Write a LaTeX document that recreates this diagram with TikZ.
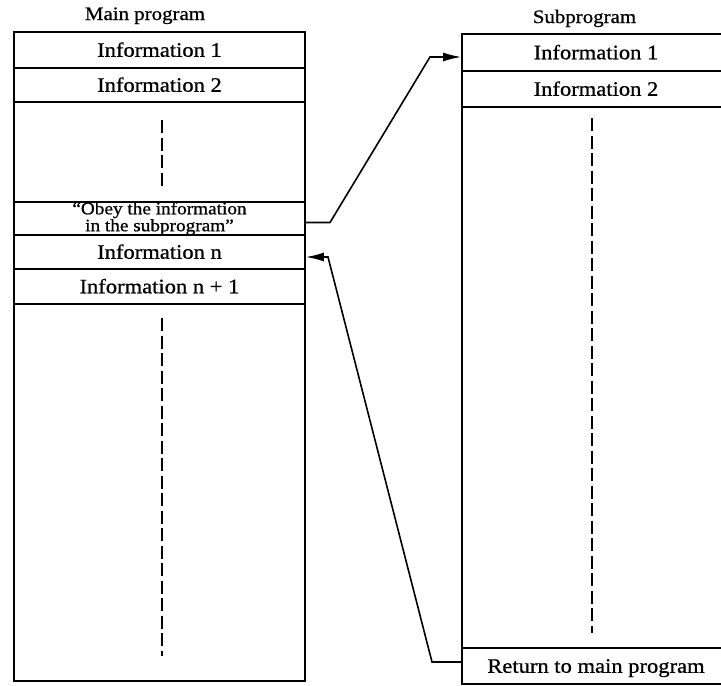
\documentclass[tikz,border=0pt]{standalone}
\usepackage{fontspec}
\setmainfont[FakeStretch=1.1,FakeBold=0.8]{Liberation Serif}
\usetikzlibrary{arrows.meta}
\begin{document}
\begin{tikzpicture}[x=1pt,y=-1pt,
  frame/.style={draw,line width=1.8pt,inner sep=0pt},
  row/.style={frame,text height=13.5pt,text depth=0pt,
    font=\fontsize{20.5}{23}\selectfont},
  mainrow/.style={row,minimum width=291pt,minimum height=#1},
  subrow/.style={row,minimum width=268pt,minimum height=#1},
  title/.style={anchor=base,font=\fontsize{19}{22}\selectfont},
  gapline/.style={line width=1.6pt,dash pattern=on 13pt off 4.5pt},
  link/.style={line width=1.6pt,-{Latex[length=18pt,width=9pt]}}
]
\fill[white] (0,0) rectangle (721,686);
\clip (0,0) rectangle (721,686);

% main program column
\node[frame,minimum width=291pt,minimum height=649pt] (mainbox) at (159.5,356.5) {};
\node[mainrow=36pt] (m1) at (159.5,50) {Information 1};
\node[mainrow=34pt] (m2) at (159.5,85) {Information 2};
\node[frame,minimum width=291pt,minimum height=33pt,align=center,
  font=\fontsize{17.5}{13}\selectfont] (mobey) at (159.5,218.5)
  {``Obey the information\\in the subprogram''};
\node[mainrow=34pt] (mn) at (159.5,252) {Information n};
\node[mainrow=35pt] (mn1) at (159.5,286.5) {Information n + 1};
\node[title] (maintitle) at (145,20) {Main program};

\draw[gapline] (162,120) -- (162,186);
\draw[gapline] (162,318) -- (162,656);

% subprogram column
\node[frame,minimum width=268pt,minimum height=650pt] (subbox) at (596,359) {};
\node[subrow=37pt] (s1) at (596,52.5) {Information 1};
\node[subrow=36pt] (s2) at (596,89) {Information 2};
\node[subrow=36pt] (sret) at (596,666) {Return to main program};
\node[title] (subtitle) at (584.5,23) {Subprogram};

\draw[gapline] (592,118) -- (592,633);

% call and return
\coordinate (callA) at (330,222.5);
\coordinate (callB) at (430,57);
\coordinate (retA) at (432,662);
\coordinate (retB) at (328,257);
\draw[link] ([yshift=-4pt]mobey.east) -- (callA) -- (callB) -- ([yshift=-4.5pt]s1.west);
\draw[link] ([yshift=4pt]sret.west) -- (retA) -- (retB) -- ([yshift=-5pt]mn.east);
\end{tikzpicture}
\end{document}
